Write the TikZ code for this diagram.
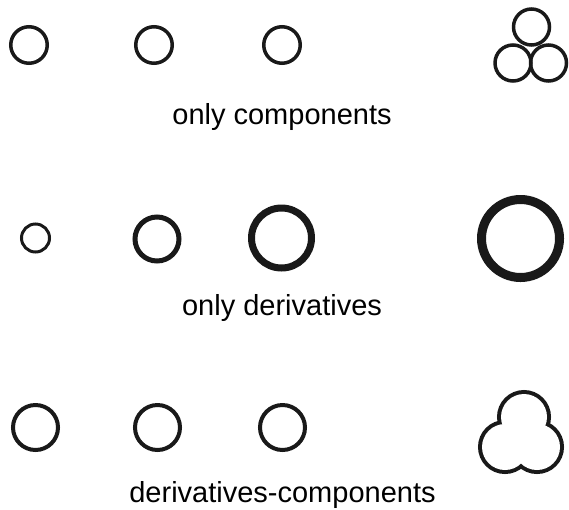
\documentclass[tikz,border=0pt]{standalone}
\usepackage{fontspec}
\setmainfont{Liberation Sans}
\begin{document}
\begin{tikzpicture}[x=1pt,y=-1pt,
  ring/.style={circle,draw=black!90,inner sep=0pt,outer sep=0pt},
  label/.style={font=\fontsize{29}{33}\selectfont,anchor=base,inner sep=0pt},
  lobe/.style={circle,inner sep=0pt,outer sep=0pt,minimum size=46pt}]
\useasboundingbox (0,0) rectangle (569,509);

% row 1: components
\node[ring,line width=3.5pt,minimum size=36.5pt] (c1) at (29,45) {};
\node[ring,line width=3.5pt,minimum size=36.5pt] (c2) at (154,45) {};
\node[ring,line width=3.5pt,minimum size=36.5pt] (c3) at (282,45) {};
\node[ring,line width=3.5pt,minimum size=36pt] (ct) at (531.5,27) {};
\node[ring,line width=3.5pt,minimum size=36pt] (cl) at (513,63) {};
\node[ring,line width=3.5pt,minimum size=36pt] (cr) at (548.5,63) {};
\node[label] (t1) at (282,124) {only components};

% row 2: derivatives
\node[ring,line width=3pt,minimum size=28pt] (d1) at (35.5,238) {};
\node[ring,line width=5pt,minimum size=44pt] (d2) at (157,239) {};
\node[ring,line width=7pt,minimum size=60pt] (d3) at (281.5,238) {};
\node[ring,line width=9pt,minimum size=78pt] (dt) at (520.5,238.5) {};
\node[label] (t2) at (282,315) {only derivatives};

% row 3: derivatives-components
\node[ring,line width=4pt,minimum size=45pt] (e1) at (35.5,427.5) {};
\node[ring,line width=4pt,minimum size=45pt] (e2) at (157.5,427.5) {};
\node[ring,line width=4pt,minimum size=45pt] (e3) at (282.5,427.5) {};
% merged outline: thick rings, then white interiors on top
\node[lobe,draw=black!90,line width=8pt] (ea) at (524,417) {};
\node[lobe,draw=black!90,line width=8pt] (eb) at (505,447) {};
\node[lobe,draw=black!90,line width=8pt] (ec) at (537,447) {};
\node[lobe,fill=white] at (ea.center) {};
\node[lobe,fill=white] at (eb.center) {};
\node[lobe,fill=white] at (ec.center) {};
\node[label] (t3) at (282.5,502) {derivatives-components};
\end{tikzpicture}
\end{document}
